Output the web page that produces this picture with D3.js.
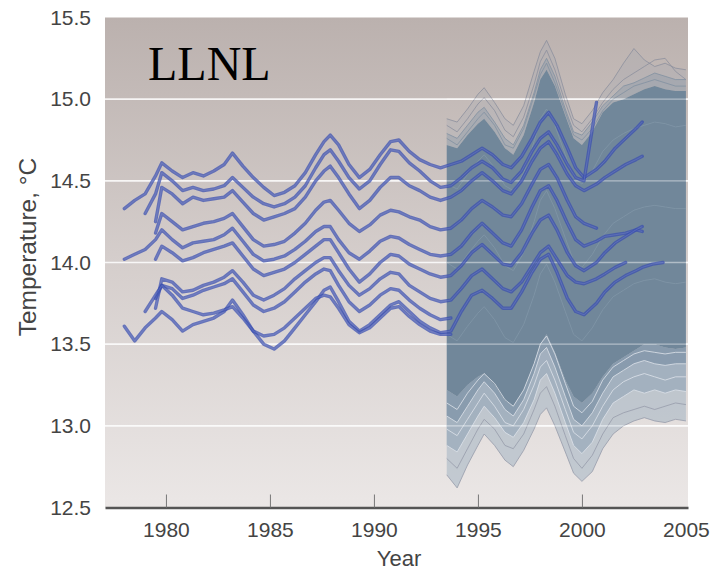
<!DOCTYPE html>
<html><head><meta charset="utf-8">
<script src="https://cdn.jsdelivr.net/npm/d3@7"></script>
<style>body{margin:0;background:#fff}svg{display:block}</style>
</head><body>
<svg id="c" width="728" height="570"></svg>
<script>
// ---------- data ----------
const X_TICKS = [1980, 1985, 1990, 1995, 2000, 2005];
const Y_TICKS = [12.5, 13.0, 13.5, 14.0, 14.5, 15.0, 15.5];
const GRID_VALUES = [13.0, 13.5, 14.0, 14.5, 15.0];

// shared time grid for the blue (observed-SST) model runs
const BLUE_YEARS = [1978.0,1978.5,1979.0,1979.5,1979.8,1980.3,1980.8,1981.3,1981.8,1982.3,1982.8,1983.2,1983.7,1984.2,1984.7,1985.2,1985.7,1986.2,1986.7,1987.2,1987.6,1987.9,1988.3,1988.8,1989.3,1989.8,1990.3,1990.8,1991.2,1991.7,1992.2,1992.7,1993.2,1993.7,1994.2,1994.7,1995.2,1995.7,1996.2,1996.6,1997.1,1997.6,1998.0,1998.4,1998.8,1999.3,1999.7,2000.1,2000.7,2001.1,2001.6,2002.1,2002.6,2002.9,2003.4,2003.9];
// index into BLUE_YEARS where each run starts
const BLUE_START = [0, 2, 3, 3, 0, 3, 3, 3, 0, 2];
const BLUE_1 = [14.33,14.38,14.42,14.53,14.61,14.56,14.52,14.55,14.53,14.56,14.60,14.67,14.59,14.52,14.46,14.41,14.43,14.47,14.55,14.66,14.74,14.78,14.72,14.60,14.52,14.57,14.66,14.74,14.75,14.68,14.63,14.60,14.58,14.60,14.62,14.66,14.70,14.66,14.60,14.58,14.65,14.76,14.86,14.92,14.84,14.70,14.58,14.52,14.57,14.62,14.70,14.76,14.82,14.86];
const BLUE_2 = [14.30,14.42,14.55,14.50,14.44,14.46,14.44,14.45,14.47,14.52,14.46,14.40,14.36,14.34,14.36,14.40,14.47,14.58,14.66,14.69,14.62,14.52,14.45,14.50,14.60,14.69,14.68,14.61,14.56,14.50,14.46,14.47,14.52,14.58,14.62,14.58,14.51,14.49,14.56,14.68,14.76,14.80,14.72,14.60,14.52,14.50,14.98];
const BLUE_3 = [14.25,14.46,14.42,14.36,14.40,14.38,14.39,14.40,14.44,14.37,14.30,14.26,14.28,14.30,14.33,14.40,14.50,14.56,14.59,14.52,14.42,14.33,14.38,14.46,14.52,14.52,14.47,14.44,14.40,14.38,14.40,14.44,14.50,14.55,14.50,14.44,14.42,14.50,14.62,14.70,14.74,14.66,14.54,14.47,14.44,14.48,14.52,14.56,14.60,14.63,14.65];
const BLUE_4 = [14.18,14.30,14.25,14.20,14.22,14.24,14.25,14.27,14.30,14.22,14.14,14.10,14.11,14.13,14.18,14.24,14.32,14.37,14.38,14.32,14.24,14.19,14.23,14.29,14.32,14.31,14.28,14.26,14.22,14.20,14.21,14.26,14.33,14.38,14.34,14.29,14.28,14.36,14.48,14.57,14.60,14.52,14.38,14.28,14.24,14.21];
const BLUE_5 = [14.02,14.05,14.08,14.14,14.20,14.14,14.09,14.12,14.13,14.14,14.17,14.21,14.13,14.05,14.01,14.02,14.04,14.08,14.13,14.19,14.22,14.22,14.14,14.06,14.02,14.07,14.13,14.16,14.15,14.11,14.08,14.05,14.04,14.05,14.10,14.18,14.24,14.18,14.12,14.10,14.20,14.34,14.44,14.47,14.38,14.24,14.14,14.10,14.13,14.16,14.17,14.18,14.20,14.19];
const BLUE_6 = [14.02,14.10,14.06,14.01,14.03,14.06,14.08,14.10,14.12,14.04,13.96,13.92,13.94,13.96,14.00,14.05,14.10,14.14,14.14,14.06,13.96,13.88,13.93,14.00,14.05,14.04,13.99,13.96,13.93,13.91,13.92,13.98,14.06,14.11,14.05,13.99,13.98,14.06,14.18,14.26,14.29,14.20,14.06,13.98,13.95,14.00,14.06,14.12,14.16,14.20,14.22];
const BLUE_7 = [13.72,13.90,13.88,13.82,13.83,13.86,13.88,13.91,13.95,13.88,13.80,13.77,13.80,13.84,13.90,13.95,14.00,14.03,14.03,13.95,13.86,13.80,13.84,13.90,13.94,13.93,13.86,13.82,13.78,13.76,13.77,13.84,13.92,13.96,13.90,13.84,13.82,13.88,13.98,14.06,14.10,14.02,13.92,13.88,13.87,13.90,13.93,13.97,14.00];
const BLUE_8 = [13.78,13.86,13.84,13.78,13.80,13.83,13.85,13.87,13.90,13.82,13.74,13.70,13.72,13.76,13.82,13.88,13.93,13.96,13.95,13.86,13.76,13.70,13.74,13.80,13.84,13.83,13.77,13.72,13.68,13.65,13.66];
const BLUE_9 = [13.61,13.52,13.60,13.66,13.70,13.65,13.58,13.62,13.64,13.66,13.70,13.77,13.68,13.58,13.50,13.47,13.52,13.60,13.68,13.76,13.83,13.85,13.76,13.64,13.58,13.62,13.68,13.74,13.76,13.70,13.64,13.60,13.57,13.58,13.70,13.80,13.83,13.78,13.72,13.72,13.82,13.94,14.02,14.05,13.94,13.78,13.70,13.68,13.75,13.82,13.88,13.92,13.95,13.97,13.99,14.00];
const BLUE_10 = [13.70,13.80,13.86,13.80,13.72,13.70,13.68,13.69,13.71,13.73,13.66,13.58,13.55,13.56,13.60,13.66,13.72,13.78,13.80,13.79,13.72,13.62,13.57,13.60,13.66,13.72,13.73,13.67,13.62,13.58,13.56,13.56];

// ensemble (perturbed runs) from mid-1993
const ENS_YEARS = [1993.5,1994.0,1994.5,1995.0,1995.3,1995.8,1996.3,1996.7,1997.2,1997.7,1998.0,1998.3,1998.7,1999.2,1999.6,2000.0,2000.5,2001.0,2001.5,2002.0,2002.5,2003.0,2003.5,2004.0,2004.5,2005.0];
const ENS_DENSE_HI = [14.72,14.70,14.78,14.85,14.88,14.80,14.70,14.66,14.78,14.98,15.12,15.18,15.08,14.90,14.76,14.72,14.80,14.92,14.98,15.00,15.03,15.06,15.08,15.06,15.05,15.05];
const ENS_DENSE_LO = [13.22,13.18,13.25,13.30,13.32,13.25,13.15,13.12,13.22,13.38,13.50,13.56,13.45,13.28,13.18,13.14,13.20,13.30,13.38,13.42,13.46,13.50,13.50,13.48,13.47,13.48];
const ENS_UP_1 = [14.88,14.86,14.94,15.03,15.07,14.98,14.88,14.84,14.96,15.17,15.29,15.36,15.25,15.03,14.88,14.85,14.93,15.04,15.12,15.22,15.31,15.24,15.20,15.22,15.19,15.18];
const ENS_UP_2 = [14.84,14.80,14.88,14.97,15.01,14.93,14.81,14.77,14.89,15.09,15.23,15.30,15.18,14.98,14.84,14.80,14.88,14.98,15.06,15.12,15.16,15.20,15.24,15.25,15.17,15.12];
const ENS_UP_3 = [14.79,14.76,14.84,14.92,14.95,14.86,14.76,14.72,14.84,15.04,15.18,15.25,15.14,14.94,14.80,14.78,14.86,14.96,15.02,15.08,15.10,15.13,15.16,15.14,15.12,15.12];
const ENS_UP_4 = [14.76,14.72,14.80,14.88,14.92,14.84,14.72,14.70,14.82,15.02,15.15,15.22,15.10,14.92,14.78,14.75,14.82,14.93,15.00,15.04,15.08,15.10,15.12,15.10,15.08,15.08];
const ENS_MID_1 = [14.48,14.45,14.54,14.62,14.66,14.58,14.47,14.44,14.55,14.74,14.88,14.94,14.84,14.66,14.52,14.48,14.56,14.68,14.75,14.79,14.82,14.84,14.86,14.85,14.83,14.84];
const ENS_MID_2 = [14.00,13.96,14.05,14.13,14.17,14.09,13.98,13.95,14.06,14.25,14.38,14.44,14.33,14.15,14.01,13.97,14.05,14.16,14.24,14.28,14.32,14.34,14.35,14.34,14.33,14.33];
const ENS_MID_3 = [13.56,13.52,13.61,13.69,13.73,13.65,13.54,13.51,13.62,13.80,13.93,13.99,13.88,13.70,13.56,13.52,13.60,13.71,13.79,13.83,13.87,13.89,13.90,13.88,13.87,13.88];
const ENS_LOW_1 = [12.70,12.62,12.76,12.88,12.95,12.88,12.79,12.75,12.85,12.98,13.07,13.11,13.00,12.84,12.71,12.66,12.72,12.86,12.95,13.00,13.03,13.05,13.03,13.02,13.04,13.03];
const ENS_LOW_2 = [12.80,12.74,12.86,12.98,13.04,12.98,12.88,12.86,12.95,13.10,13.20,13.24,13.12,12.94,12.80,12.74,12.82,12.95,13.05,13.08,13.10,13.12,13.10,13.12,13.14,13.13];
const ENS_LOW_3 = [12.88,12.84,12.95,13.06,13.12,13.05,12.96,12.93,13.02,13.16,13.28,13.32,13.20,13.02,12.88,12.83,12.90,13.04,13.14,13.18,13.22,13.20,13.22,13.20,13.22,13.21];
const ENS_LOW_4 = [12.98,12.94,13.04,13.14,13.20,13.12,13.02,13.00,13.10,13.25,13.36,13.40,13.28,13.10,12.96,12.92,13.00,13.12,13.22,13.27,13.30,13.32,13.30,13.28,13.30,13.30];
const ENS_LOW_5 = [13.06,13.02,13.12,13.22,13.27,13.20,13.10,13.06,13.16,13.32,13.44,13.48,13.36,13.18,13.04,13.00,13.08,13.20,13.30,13.34,13.38,13.40,13.38,13.37,13.38,13.38];
const ENS_LOW_6 = [13.14,13.10,13.20,13.28,13.32,13.26,13.16,13.12,13.22,13.38,13.50,13.55,13.44,13.26,13.12,13.08,13.15,13.28,13.36,13.40,13.44,13.46,13.45,13.44,13.45,13.45];

// ---------- drawing ----------
const svg = d3.select('#c');
const L = 105, R = 688, T = 17.5, B = 507.5;
const x = d3.scaleLinear().domain([1977.07, 2005.1]).range([L, R]);
const y = d3.scaleLinear().domain([12.5, 15.5]).range([B, T]);

const defs = svg.append('defs');
const bg = defs.append('linearGradient').attr('id', 'bg').attr('x1', 0).attr('y1', 0).attr('x2', 0).attr('y2', 1);
bg.append('stop').attr('offset', '0%').attr('stop-color', '#bbb1ae');
bg.append('stop').attr('offset', '50%').attr('stop-color', '#d5cecc');
bg.append('stop').attr('offset', '100%').attr('stop-color', '#ebe7e6');
defs.append('clipPath').attr('id', 'plot').append('rect').attr('x', L).attr('y', T).attr('width', R - L).attr('height', B - T);

svg.append('rect').attr('x', L).attr('y', T).attr('width', R - L).attr('height', B - T).attr('fill', 'url(#bg)');

const g = svg.append('g').attr('clip-path', 'url(#plot)');

// gridlines (under)
g.selectAll('line.grid').data(GRID_VALUES).join('line').attr('class', 'grid')
  .attr('x1', L).attr('x2', R).attr('y1', d => y(d)).attr('y2', d => y(d))
  .attr('stroke', '#ffffff').attr('stroke-width', 1.6).attr('opacity', 0.85);

// ensemble
const ensPts = arr => arr.map((v, i) => [ENS_YEARS[i], v]);
const band = (lo, hi) => d3.area().x((d, i) => x(ENS_YEARS[i])).y0((d, i) => y(lo[i])).y1((d, i) => y(hi[i]))(ENS_YEARS);
const ln = d3.line().x(d => x(d[0])).y(d => y(d[1]));

g.append('path').attr('d', band(ENS_DENSE_HI, ENS_UP_1)).attr('fill', '#9aa5b1').attr('opacity', 0.22);
g.append('path').attr('d', band(ENS_DENSE_HI, ENS_UP_3)).attr('fill', '#8395a5').attr('opacity', 0.35);
g.append('path').attr('d', band(ENS_LOW_1, ENS_DENSE_LO)).attr('fill', '#a9b8c5').attr('opacity', 0.6);
g.append('path').attr('d', band(ENS_LOW_3, ENS_DENSE_LO)).attr('fill', '#91a4b5').attr('opacity', 0.6);
g.append('path').attr('d', band(ENS_LOW_5, ENS_DENSE_LO)).attr('fill', '#7b91a4').attr('opacity', 0.65);
g.append('path').attr('d', band(ENS_DENSE_LO, ENS_DENSE_HI)).attr('fill', '#71879a');

[ENS_MID_1, ENS_MID_2, ENS_MID_3].forEach(a => {
  g.append('path').attr('d', ln(ensPts(a))).attr('fill', 'none')
    .attr('stroke', '#8ea2b4').attr('stroke-width', 0.8).attr('opacity', 0.55);
});
[ENS_UP_1, ENS_UP_2, ENS_UP_3, ENS_UP_4].forEach((a, i) => {
  g.append('path').attr('d', ln(ensPts(a))).attr('fill', 'none')
    .attr('stroke', i < 2 ? '#8a8e9c' : '#7f8fa0').attr('stroke-width', 0.9).attr('opacity', 0.85);
});
[ENS_LOW_1, ENS_LOW_2, ENS_LOW_3, ENS_LOW_4, ENS_LOW_5, ENS_LOW_6].forEach((a, i) => {
  g.append('path').attr('d', ln(ensPts(a))).attr('fill', 'none')
    .attr('stroke', i < 2 ? '#979cab' : '#dde3ea').attr('stroke-width', 0.9).attr('opacity', 0.9);
});

// gridlines over ensemble
g.selectAll('line.grid2').data(GRID_VALUES).join('line').attr('class', 'grid2')
  .attr('x1', x(ENS_YEARS[0])).attr('x2', R).attr('y1', d => y(d)).attr('y2', d => y(d))
  .attr('stroke', '#ffffff').attr('stroke-width', 1.4).attr('opacity', 0.45);

// blue runs
const BLUE = [BLUE_1, BLUE_2, BLUE_3, BLUE_4, BLUE_5, BLUE_6, BLUE_7, BLUE_8, BLUE_9, BLUE_10];
BLUE.forEach((vals, i) => {
  const pts = vals.map((v, k) => [BLUE_YEARS[BLUE_START[i] + k], v]);
  g.append('path').attr('d', ln(pts)).attr('fill', 'none')
    .attr('stroke', '#3a4fb0').attr('stroke-width', 3.4).attr('opacity', 0.72)
    .attr('stroke-linejoin', 'round').attr('stroke-linecap', 'round');
  g.append('path').attr('d', ln(pts)).attr('fill', 'none')
    .attr('stroke', '#8a97d4').attr('stroke-width', 0.7).attr('opacity', 0.45)
    .attr('stroke-linejoin', 'round');
});

// LLNL label
svg.append('text').attr('x', 148).attr('y', 80).text('LLNL')
  .attr('font-family', '"Liberation Serif", "Times New Roman", serif').attr('font-size', 48).attr('fill', '#000');

// axes
const xAxis = d3.axisBottom(x).tickValues(X_TICKS).tickFormat(d3.format('d')).tickSizeInner(-13).tickSizeOuter(0).tickPadding(15);
const gx = svg.append('g').attr('transform', `translate(0,${B})`).call(xAxis);
gx.select('.domain').attr('stroke', '#555').attr('stroke-width', 2.5);
gx.selectAll('.tick line').attr('stroke', '#777').attr('stroke-width', 1).attr('display', d => d === 2005 ? 'none' : null);
gx.selectAll('.tick text').attr('font-family', '"Liberation Sans", Arial, sans-serif').attr('font-size', 21).attr('fill', '#444');

const yAxis = d3.axisLeft(y).tickValues(Y_TICKS).tickFormat(d3.format('.1f')).tickSize(0).tickPadding(14);
const gy = svg.append('g').attr('transform', `translate(${L},0)`).call(yAxis);
gy.select('.domain').remove();
gy.selectAll('.tick text').attr('font-family', '"Liberation Sans", Arial, sans-serif').attr('font-size', 21).attr('fill', '#444');

svg.append('text').attr('x', 399).attr('y', 566).attr('text-anchor', 'middle').text('Year')
  .attr('font-family', '"Liberation Sans", Arial, sans-serif').attr('font-size', 22).attr('fill', '#444');
svg.append('text').attr('transform', 'translate(36,247) rotate(-90)').attr('text-anchor', 'middle').text('Temperature, °C')
  .attr('font-family', '"Liberation Sans", Arial, sans-serif').attr('font-size', 24.5).attr('fill', '#444');
</script>
</body></html>
